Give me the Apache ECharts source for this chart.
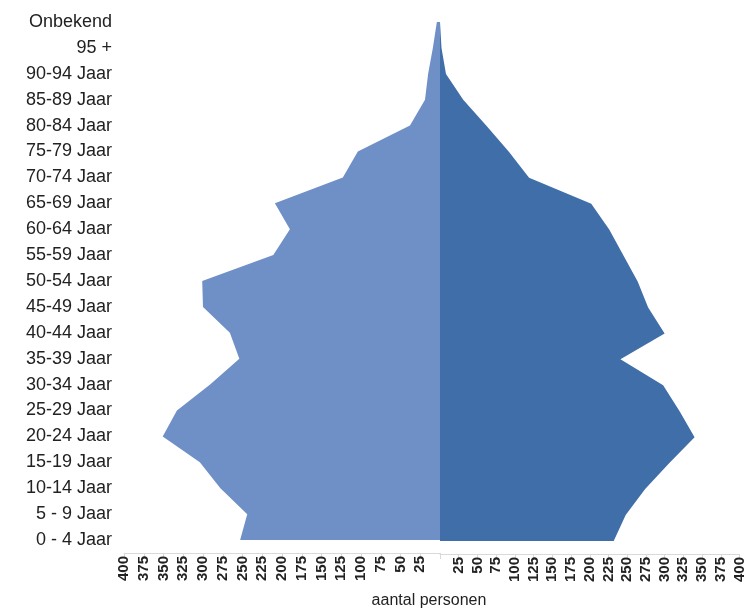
<!DOCTYPE html>
<html>
<head>
<meta charset="utf-8">
<script src="https://cdn.jsdelivr.net/npm/echarts@6/dist/echarts.min.js"></script>
<style>html,body{margin:0;padding:0;background:#fff}#c{width:747px;height:609px}</style>
</head>
<body>
<div id="c"></div>
<script>
var categories = ['0 - 4 Jaar','5 - 9 Jaar','10-14 Jaar','15-19 Jaar','20-24 Jaar','25-29 Jaar','30-34 Jaar','35-39 Jaar','40-44 Jaar','45-49 Jaar','50-54 Jaar','55-59 Jaar','60-64 Jaar','65-69 Jaar','70-74 Jaar','75-79 Jaar','80-84 Jaar','85-89 Jaar','90-94 Jaar','95 +','Onbekend'];
var leftValues  = [253,244,278,304,351,333,291,254,266,300,301,211,190,209,123,104,38,19,15,9,4];
var rightValues = [232,248,274,306,340,320,298,241,300,278,264,245,226,202,119,92,62,31,8,2,0];
var xTicks = [0,25,50,75,100,125,150,175,200,225,250,275,300,325,350,375,400];

var labelFont = 'Liberation Sans, Arial, sans-serif';
function xAxisCfg(gridIndex, inverse) {
  return {
    type: 'value', gridIndex: gridIndex, inverse: inverse,
    min: xTicks[0], max: xTicks[xTicks.length - 1], interval: xTicks[1] - xTicks[0],
    axisLine: { show: true, lineStyle: { color: '#d9d9d9' } },
    axisTick: { show: true, length: 5, lineStyle: { color: '#d9d9d9' } },
    splitLine: { show: false },
    axisLabel: {
      rotate: 90, margin: 3, color: '#222', fontSize: 15, fontWeight: 'bold', fontFamily: labelFont,
      formatter: function (v) { return v === 0 ? '' : String(v); }
    }
  };
}
var chart = echarts.init(document.getElementById('c'));
chart.setOption({
  animation: false,
  grid: [
    { left: 124, width: 316, top: 9, height: 545 },
    { left: 440, width: 305, top: 9, height: 545 }
  ],
  xAxis: [
    Object.assign(xAxisCfg(0, true), {
      name: 'aantal personen', nameLocation: 'start',
      nameTextStyle: { color: '#222', fontSize: 16, fontFamily: labelFont, align: 'center', verticalAlign: 'top', padding: [40, 16, 0, 0] },
      nameGap: -3
    }),
    xAxisCfg(1, false)
  ],
  yAxis: [
    { type: 'category', gridIndex: 0, data: categories, boundaryGap: true,
      axisLine: { show: false }, axisTick: { show: false },
      axisLabel: { color: '#222', fontSize: 18, fontFamily: labelFont, margin: 12 } },
    { type: 'category', gridIndex: 1, data: categories, boundaryGap: true,
      axisLine: { show: false }, axisTick: { show: false }, axisLabel: { show: false } }
  ],
  series: [
    { type: 'line', xAxisIndex: 0, yAxisIndex: 0, data: leftValues, showSymbol: false,
      lineStyle: { width: 0 }, areaStyle: { color: '#6f8fc7', opacity: 1 } },
    { type: 'line', xAxisIndex: 1, yAxisIndex: 1, data: rightValues, showSymbol: false,
      lineStyle: { width: 0 }, areaStyle: { color: '#3f6ea9', opacity: 1 } }
  ]
});
</script>
</body>
</html>
